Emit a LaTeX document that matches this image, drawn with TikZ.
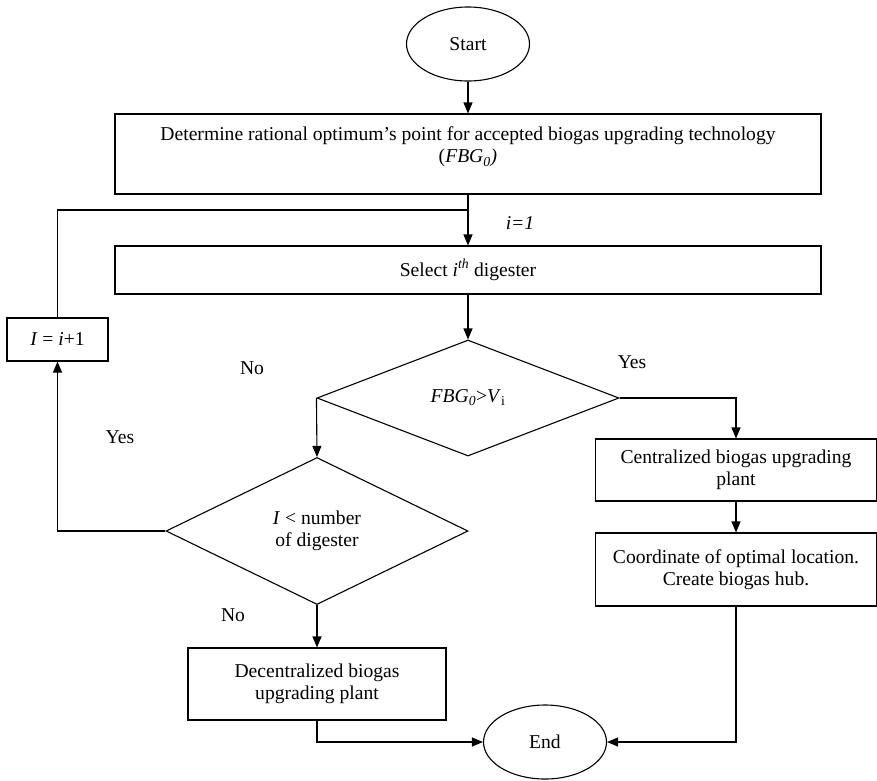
\documentclass[tikz,border=0pt]{standalone}
\usepackage{fontspec}
\setmainfont{Liberation Serif}
\usetikzlibrary{shapes.geometric, arrows.meta}

\begin{document}
\begin{tikzpicture}[
        x=1pt, y=-1pt,
        every node/.style={font=\fontsize{19.6}{22}\selectfont},
        blk/.style={draw, line width=1.1pt, align=center, inner sep=0pt},
        trm/.style={draw, ellipse, line width=1.1pt, minimum width=123pt, minimum height=74pt, inner sep=0pt},
        dcs/.style={draw, diamond, line width=1.1pt, minimum width=302pt, align=center, inner sep=0pt},
        ln/.style={line width=1.1pt},
        ar/.style={ln, -{Triangle[length=11pt, width=9pt]}},
        lbl/.style={inner sep=0pt}
      ]
      \useasboundingbox (0,0) rectangle (877,780);
      \node[trm] (start) at (468,44) {Start};
      \node[blk, minimum width=706pt, minimum height=80pt] (det) at (468,154)
        {Determine rational optimum’s point for accepted biogas upgrading technology\\
         (\textit{FBG}\textsubscript{\textit{0}}\textit{)}\\[-4pt]};
      \node[blk, minimum width=706pt, minimum height=48pt] (sel) at (468,270)
        {Select \textit{i}\textsuperscript{\textit{th}} digester};
      \node[blk, minimum width=101pt, minimum height=43pt] (inc) at (57.5,339.5)
        {\textit{I} = \textit{i}+1};
      \node[dcs, minimum height=116pt] (cmp) at (468,398)
        {\textit{FBG}\textsubscript{\textit{0}}>\textit{V}\textsubscript{i}};
      \node[dcs, minimum height=147pt] (cnt) at (317,531)
        {\textit{I} < number\\of digester};
      \node[blk, minimum width=281pt, minimum height=62pt] (cen) at (736,470)
        {Centralized biogas upgrading\\plant};
      \node[blk, minimum width=281pt, minimum height=73pt] (coo) at (736,569.5)
        {Coordinate of optimal location.\\Create biogas hub.};
      \node[blk, minimum width=258pt, minimum height=72pt] (dcn) at (317,684)
        {Decentralized biogas\\upgrading plant};
      \node[trm] (stop) at (545,742) {End};
      \coordinate (jn) at (468,210);

      \node[lbl] (l1) at (520,223) {\textit{i=1}};
      \node[lbl] (l2) at (252,368) {No};
      \node[lbl] (l3) at (632,362) {Yes};
      \node[lbl] (l4) at (120,437) {Yes};
      \node[lbl] (l5) at (233,615) {No};

      \draw[ar] (start) -- (det);
      \draw[ar] (det) -- (sel);
      \draw[ln] (inc.north) |- (jn);
      \draw[ar] (sel) -- (cmp);
      \draw[ar] (cmp.east) -| (cen.north);
      \draw[ar] (cmp.west) -- (cnt.north);
      \draw[ar] (cnt.west) -| (inc.south);
      \draw[ar] (cnt.south) -- (dcn.north);
      \draw[ar] (cen) -- (coo);
      \draw[ar] (coo.south) |- (stop.east);
      \draw[ar] (dcn.south) |- (stop.west);
    \end{tikzpicture}
\end{document}
